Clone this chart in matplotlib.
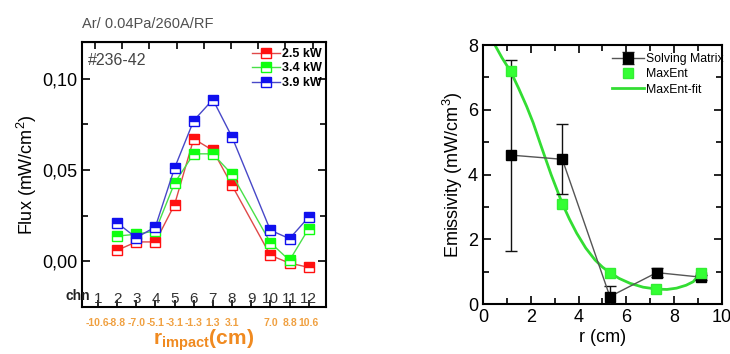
import matplotlib
matplotlib.use('agg')
import matplotlib.pyplot as plt
from matplotlib.ticker import MultipleLocator, FixedLocator
import numpy as np

plt.rcParams['font.family'] = ['Liberation Sans', 'DejaVu Sans']
plt.rcParams['mathtext.fontset'] = 'custom'
plt.rcParams['mathtext.rm'] = 'Liberation Sans'
plt.rcParams['mathtext.it'] = 'Liberation Sans:italic'
plt.rcParams['mathtext.bf'] = 'Liberation Sans:bold'

# left panel: flux per channel
channels = [2, 3, 4, 5, 6, 7, 8, 10, 11, 12]
flux_25 = [0.006, 0.0106, 0.0106, 0.031, 0.067, 0.0607, 0.0415, 0.0033, -0.001, -0.0033]
flux_34 = [0.0138, 0.0148, 0.0166, 0.0428, 0.0588, 0.0588, 0.0475, 0.0102, 0.0005, 0.0179]
flux_39 = [0.0211, 0.0129, 0.0188, 0.051, 0.077, 0.0885, 0.068, 0.017, 0.0124, 0.0242]
power_labels = ['2.5 kW', '3.4 kW', '3.9 kW']
chn_ticks = list(range(1, 13))
r_impact_ch = [1, 2, 3, 4, 5, 6, 7, 8, 10, 11, 12]
r_impact_lbl = ['-10.6', '-8.8', '-7.0', '-5.1', '-3.1', '-1.3', '1.3', '3.1', '7.0', '8.8', '10.6']

# right panel: emissivity
r_sm = [1.16, 3.32, 5.31, 7.27, 9.12]
em_sm = [4.6, 4.47, 0.23, 0.97, 0.83]
em_sm_err = [2.95, 1.08, 0.33, 0.15, 0.08]
r_me = [1.16, 3.3, 5.31, 7.25, 9.12]
em_me = [7.2, 3.1, 0.97, 0.46, 0.97]
r_fit = [0.5, 0.8, 1.16, 1.5, 1.83, 2.1, 2.4, 2.85, 3.32, 3.62, 3.92, 4.3, 4.69,
         5.0, 5.31, 5.7, 6.15, 6.7, 7.27, 7.7, 8.1, 8.5, 8.8, 9.11]
em_fit = [8.0, 7.6, 7.18, 6.65, 6.1, 5.6, 4.95, 4.0, 3.1, 2.62, 2.19, 1.73, 1.36,
          1.14, 0.97, 0.79, 0.64, 0.52, 0.46, 0.45, 0.49, 0.58, 0.69, 0.97]

fig = plt.figure(figsize=(7.3, 3.54), dpi=100)

ax1 = fig.add_axes([0.1123, 0.1328, 0.3342, 0.7486])
series = [flux_25, flux_34, flux_39]
line_cols = ['#e04848', '#48e048', '#4848c8']
mark_cols = ['#ff1010', '#10ff10', '#1010ee']
for vals, lc, mc, lab in zip(series, line_cols, mark_cols, power_labels):
    ax1.plot(channels, vals, '-', color=lc, lw=1.0, marker='s', ms=7.5,
             fillstyle='top', markerfacecolor=mc, markerfacecoloralt='white',
             markeredgecolor=mc, markeredgewidth=1.0, label=lab)
ax1.set_xlim(0.17, 12.9)
ax1.set_ylim(-0.025, 0.12)
ax1.yaxis.set_minor_locator(MultipleLocator(0.025))
ax1.set_yticks([0.0, 0.05, 0.10])
ax1.set_yticklabels(['0,00', '0,05', '0,10'], fontsize=13)
ax1.xaxis.set_major_locator(FixedLocator(chn_ticks))
ax1.set_xticklabels([])
ax1.tick_params(axis='y', which='both', direction='in', right=True, width=1.2)
ax1.tick_params(axis='y', which='major', length=6)
ax1.tick_params(axis='y', which='minor', length=4)
ax1.tick_params(axis='x', which='major', direction='in', length=5, width=1.2)
top = ax1.secondary_xaxis('top')
top.set_xticks(np.linspace(0.85, 12.2, 9))
top.set_xticklabels([])
top.tick_params(direction='in', length=5, width=1.2)
for sp in ax1.spines.values():
    sp.set_linewidth(1.5)
ax1.set_ylabel('Flux (mW/cm$^{2}$)', fontsize=13, labelpad=2)
ax1.text(0.025, 0.96, '#236-42', transform=ax1.transAxes, fontsize=11.5,
         color='#444444', va='top', ha='left')
ax1.text(0.0, 1.04, 'Ar/ 0.04Pa/260A/RF', transform=ax1.transAxes, fontsize=10.5,
         color='#505050', va='bottom', ha='left')
ax1.text(-0.016, 0.04, 'chn', transform=ax1.transAxes, fontsize=10, fontweight='bold',
         va='center', ha='center', color='#222222')
for c in chn_ticks:
    ax1.text(c, -0.0205, str(c), fontsize=11, ha='center', va='center', color='#333333')
for c, lbl in zip(r_impact_ch, r_impact_lbl):
    ax1.text(c, -0.0335, lbl, fontsize=7.5, ha='center', va='center',
             color='#f0a040', fontweight='bold', clip_on=False)
ax1.text(0.5, -0.125, r'r$_{\mathbf{impact}}$(cm)', transform=ax1.transAxes,
         fontsize=15, ha='center', va='center', color='#f08a20', fontweight='bold')
ax1.legend(loc='upper right', bbox_to_anchor=(1.03, 1.02), frameon=False,
           handlelength=2.2, handletextpad=0.2, labelspacing=0.2,
           prop={'weight': 'bold', 'size': 9})

ax2 = fig.add_axes([0.6616, 0.1412, 0.3274, 0.7316])
h_sm = ax2.errorbar(r_sm, em_sm, yerr=em_sm_err, fmt='s-', color='#555555', lw=1.0,
                    ecolor='#111111', elinewidth=1.0, capsize=4, ms=7,
                    markerfacecolor='black', markeredgecolor='black',
                    label='Solving Matrix', zorder=3)
h_me, = ax2.plot(r_me, em_me, 's', color='#33ff33', ms=7, markeredgecolor='#33ee33',
                 label='MaxEnt', zorder=4)
h_fit, = ax2.plot(r_fit, em_fit, '-', color='#33dd33', lw=2.0, label='MaxEnt-fit',
                  zorder=2)
ax2.set_xlim(0, 10)
ax2.set_ylim(0, 8)
ax2.xaxis.set_major_locator(MultipleLocator(2))
ax2.xaxis.set_minor_locator(MultipleLocator(1))
ax2.yaxis.set_major_locator(MultipleLocator(2))
ax2.yaxis.set_minor_locator(MultipleLocator(1))
ax2.tick_params(which='both', direction='in', top=True, right=True, width=1.2,
                labelsize=13)
ax2.tick_params(which='major', length=6)
ax2.tick_params(which='minor', length=4)
for sp in ax2.spines.values():
    sp.set_linewidth(1.5)
ax2.set_ylabel('Emissivity (mW/cm$^{3}$)', fontsize=13, labelpad=2)
ax2.set_xlabel('r (cm)', fontsize=13, labelpad=2)
ax2.legend([h_sm, h_me, h_fit], ['Solving Matrix', 'MaxEnt', 'MaxEnt-fit'],
           loc='upper right', bbox_to_anchor=(1.055, 1.01), frameon=False,
           fontsize=8.8, handlelength=2.6, handletextpad=0.2, labelspacing=0.25)

plt.savefig('out.png', dpi=100)
plt.close()
